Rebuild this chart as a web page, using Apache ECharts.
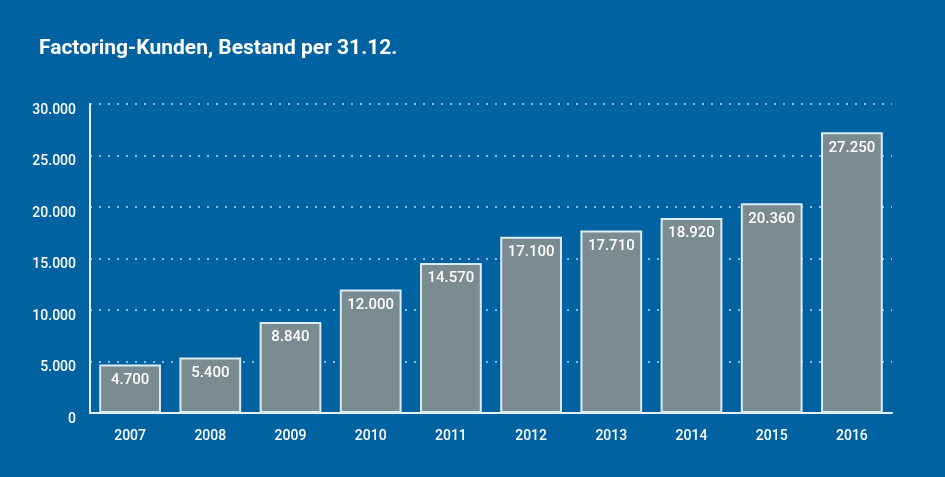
<!DOCTYPE html>
<html><head><meta charset="utf-8">
<script src="https://cdn.jsdelivr.net/npm/echarts@6/dist/echarts.min.js"></script>
<style>html,body{margin:0;padding:0;background:#0062a1}#c{width:945px;height:477px}</style>
</head><body><div id="c"></div>
<script>
const title = 'Factoring-Kunden, Bestand per 31.12.';
const years = ['2007','2008','2009','2010','2011','2012','2013','2014','2015','2016'];
const customers = [4700,5400,8840,12000,14570,17100,17710,18920,20360,27250];
const yTicks = [0,5000,10000,15000,20000,25000,30000];
const fmt = v => String(v).replace(/\B(?=(\d{3})+(?!\d))/g, '.');
const chart = echarts.init(document.getElementById('c'));
chart.setOption({
  backgroundColor: '#0062a1',
  textStyle: {fontFamily: 'Roboto'},
  title: {text: title, left: 34, top: 33, textStyle: {color: '#fff', fontSize: 21, fontWeight: 'bold', fontFamily: 'Roboto'}},
  grid: {left: 90, right: 53, top: 104, bottom: 64},
  xAxis: {type: 'category', data: years,
    axisLine: {lineStyle: {color: '#e6f2f8', width: 2}},
    axisTick: {inside: true, length: 7, lineStyle: {color: '#e6f2f8', width: 2}},
    axisLabel: {color: '#fff', fontSize: 14, fontWeight: 500, margin: 16}},
  yAxis: {type: 'value', min: yTicks[0], max: yTicks[yTicks.length-1], interval: 5000,
    axisLine: {show: true, lineStyle: {color: '#e6f2f8', width: 2}},
    axisTick: {show: false},
    axisLabel: {color: '#fff', fontSize: 14, fontWeight: 500, margin: 14, verticalAlign: 'top', lineHeight: 12, formatter: v => fmt(v)},
    splitLine: {lineStyle: {color: '#bcd8ea', type: [2, 7], width: 1.5}}},
  series: [{type: 'bar', data: customers, barCategoryGap: '23%',
    itemStyle: {color: '#7b8b92', borderColor: '#d9edf5', borderWidth: 2},
    label: {show: true, position: 'insideTop', distance: 8, color: '#fff', fontSize: 15, fontWeight: 500, formatter: p => fmt(p.value)}}]
});
</script></body></html>
